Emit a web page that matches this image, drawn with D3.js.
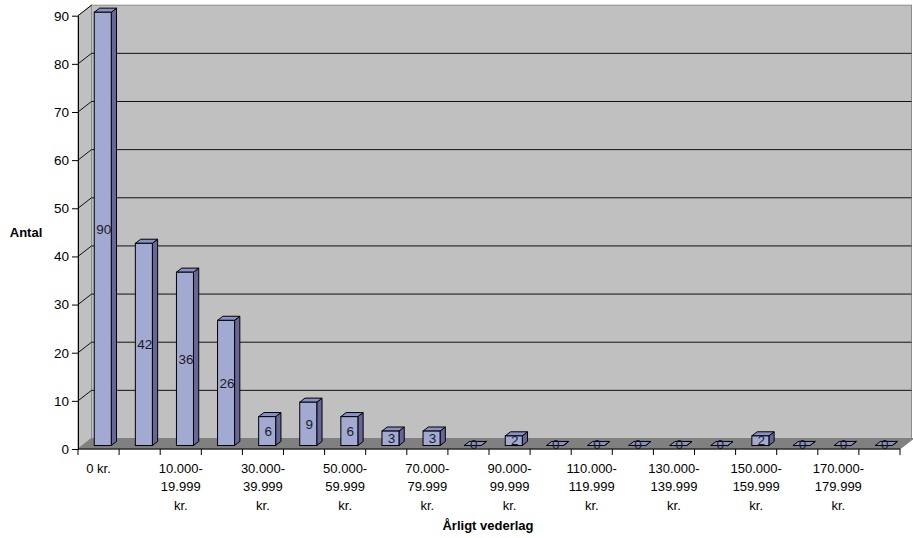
<!DOCTYPE html>
<html>
<head>
<meta charset="utf-8">
<script src="https://cdnjs.cloudflare.com/ajax/libs/d3/7.8.5/d3.min.js"></script>
<style>
body { margin: 0; background: #fff; }
text { font-family: Arial, "Liberation Sans", sans-serif; }
</style>
</head>
<body>
<div id="chart"></div>
<script>
// data
var categories = ["0 kr.", "1-9.999 kr.", "10.000-19.999 kr.", "20.000-29.999 kr.", "30.000-39.999 kr.",
    "40.000-49.999 kr.", "50.000-59.999 kr.", "60.000-69.999 kr.", "70.000-79.999 kr.", "80.000-89.999 kr.",
    "90.000-99.999 kr.", "100.000-109.999 kr.", "110.000-119.999 kr.", "120.000-129.999 kr.", "130.000-139.999 kr.",
    "140.000-149.999 kr.", "150.000-159.999 kr.", "160.000-169.999 kr.", "170.000-179.999 kr.", "180.000 kr. og derover"];
var values = [90, 42, 36, 26, 6, 9, 6, 3, 3, 0, 2, 0, 0, 0, 0, 0, 2, 0, 0, 0];
var yTicks = [0, 10, 20, 30, 40, 50, 60, 70, 80, 90];
var yTitle = "Antal";
var xTitle = "Årligt vederlag";

var w = 913;
var h = 538;
// note: "top" is a reserved window property, so use other names
var plotLeft = 78, plotRight = 900, plotBottom = 449, plotTop = 15.7;
// 3d depth offset of the walls
var dx = 13.5, dy = -10.5;

var svg = d3.select("#chart").append("svg").attr("width", w).attr("height", h);

var xScale = d3.scaleBand().domain(categories).range([plotLeft, plotRight]);
var yScale = d3.scaleLinear().domain([0, 90]).range([plotBottom, plotTop]);
var bw = xScale.bandwidth();

// side wall, back wall and floor
svg.append("polygon")
    .attr("points", [[plotLeft, yScale(90)], [plotLeft + dx, yScale(90) + dy], [plotLeft + dx, plotBottom + dy], [plotLeft, plotBottom]].join(" "))
    .style("fill", "#c0c0c0").style("stroke", "#808080");
svg.append("rect")
    .attr("x", plotLeft + dx).attr("y", yScale(90) + dy)
    .attr("width", w - 1.5 - plotLeft - dx).attr("height", plotBottom - yScale(90))
    .style("fill", "#c0c0c0").style("stroke", "#8c8c8c");
svg.append("polygon")
    .attr("points", [[plotLeft, plotBottom], [plotRight, plotBottom], [plotRight + dx, plotBottom + dy], [plotLeft + dx, plotBottom + dy]].join(" "))
    .style("fill", "#808080").style("stroke", "#808080");

// gridlines on the walls
yTicks.filter(function(t) { return t > 0 && t < 90; }).forEach(function(t) {
    svg.append("line").attr("x1", plotLeft + dx).attr("x2", w - 1.5)
        .attr("y1", yScale(t) + dy).attr("y2", yScale(t) + dy)
        .style("stroke", "#111").style("stroke-width", 1);
});
yTicks.filter(function(t) { return t > 0; }).forEach(function(t) {
    svg.append("line").attr("x1", plotLeft).attr("x2", plotLeft + dx)
        .attr("y1", yScale(t)).attr("y2", yScale(t) + dy)
        .style("stroke", "#111").style("stroke-width", 1);
});

// bars, placed a bit behind the front edge
var f0 = 0.33, f1 = 0.72;
var ox = dx * f0, oy = dy * f0;
var sx = dx * (f1 - f0), sy = dy * (f1 - f0);
var bars = svg.append("g");
categories.forEach(function(c, i) {
    var x0 = xScale(c) + bw * 0.287 + ox;
    var bwid = bw * 0.414;
    var yt = yScale(values[i]) + oy;
    var yb = plotBottom + oy;
    // side
    bars.append("polygon")
        .attr("points", [[x0 + bwid, yt], [x0 + bwid + sx, yt + sy], [x0 + bwid + sx, yb + sy], [x0 + bwid, yb]].join(" "))
        .style("fill", "#666699").style("stroke", "#000").style("stroke-width", 1).style("stroke-linejoin", "round");
    // top
    bars.append("polygon")
        .attr("points", [[x0, yt], [x0 + sx, yt + sy], [x0 + bwid + sx, yt + sy], [x0 + bwid, yt]].join(" "))
        .style("fill", "#8a8fc4").style("stroke", "#000").style("stroke-width", 1).style("stroke-linejoin", "round");
    // front
    bars.append("rect")
        .attr("x", x0).attr("y", yt).attr("width", bwid).attr("height", yb - yt)
        .style("fill", "#a2aad2").style("stroke", "#000").style("stroke-width", 1);
    // value label
    bars.append("text")
        .attr("x", x0 + bwid / 2 + 1).attr("y", (yt + yb) / 2 + (values[i] == 0 ? -1 : 0))
        .attr("text-anchor", "middle").attr("dy", ".35em")
        .style("font-size", "13.5px").style("fill", "#1a1a2a")
        .text(values[i]);
});

// y axis
var yAxis = d3.axisLeft(yScale).tickValues(yTicks).tickSize(6).tickSizeOuter(0).tickPadding(3);
var ya = svg.append("g").attr("transform", "translate(" + plotLeft + ",0)").call(yAxis);
ya.select(".domain").style("stroke", "#000");
ya.selectAll("text").style("font-size", "13.5px").style("fill", "#000")
    .style("font-family", "Arial, 'Liberation Sans', sans-serif");

// x axis line and ticks
svg.append("line").attr("x1", plotLeft).attr("x2", plotRight).attr("y1", plotBottom).attr("y2", plotBottom).style("stroke", "#000");
categories.concat([null]).forEach(function(c, i) {
    var tx = c ? xScale(c) : plotRight;
    svg.append("line").attr("x1", tx).attr("x2", tx).attr("y1", plotBottom).attr("y2", plotBottom + 6).style("stroke", "#000");
});

// x tick labels, every second category, wrapped like the original
categories.forEach(function(c, i) {
    if (i % 2 != 0) return;
    var lines = c.indexOf("-") > 0 ? c.replace("-", "-\n").replace(" kr.", "\nkr.").split("\n") : [c];
    var t = svg.append("text").attr("text-anchor", "middle").style("font-size", "13px").style("fill", "#000");
    lines.forEach(function(l, j) {
        t.append("tspan").attr("x", xScale(c) + bw / 2).attr("y", 473 + j * 18.3).text(l);
    });
});

// axis titles
svg.append("text").attr("x", 26).attr("y", 237).attr("text-anchor", "middle")
    .style("font-size", "13px").style("font-weight", "bold").text(yTitle);
svg.append("text").attr("x", 488).attr("y", 530).attr("text-anchor", "middle")
    .style("font-size", "13px").style("font-weight", "bold").text(xTitle);
</script>
</body>
</html>
